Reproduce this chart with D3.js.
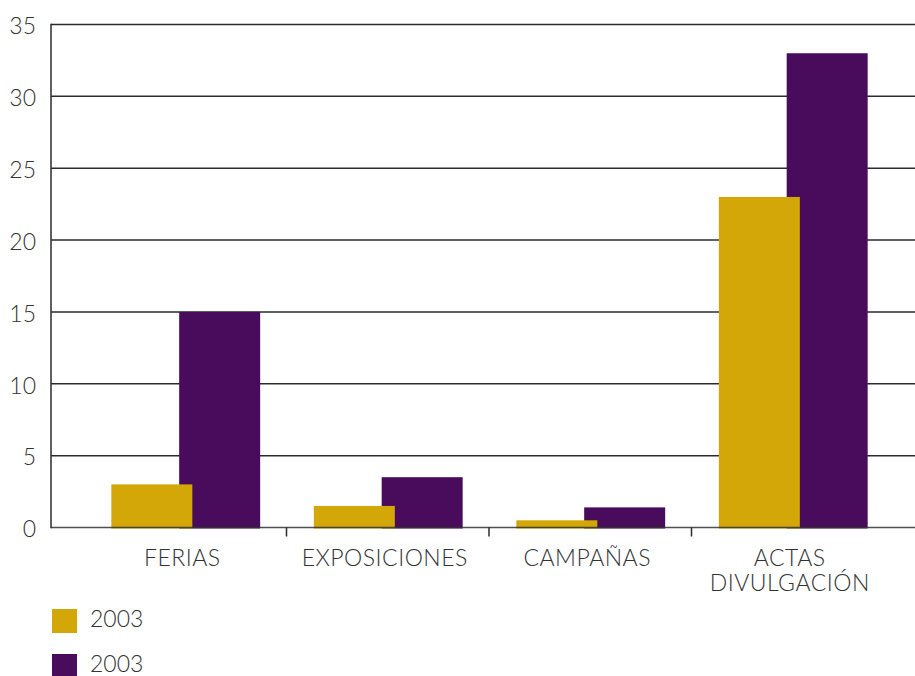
<!DOCTYPE html>
<html>
<head>
<meta charset="utf-8">
<script src="https://cdn.jsdelivr.net/npm/d3@7"></script>
<style>
  html, body { margin: 0; padding: 0; background: #fff; }
  svg { display: block; font-family: Lato, "Open Sans", sans-serif; }
</style>
</head>
<body>
<svg id="chart" width="915" height="676"></svg>
<script>
// Activity counts per category, two series
const categories = ["FERIAS", "EXPOSICIONES", "CAMPAÑAS", "ACTAS\nDIVULGACIÓN"];
const seriesNames = ["2003", "2003 "];
const seriesLabels = ["2003", "2003"];
const seriesA = [3, 1.5, 0.5, 23];
const seriesB = [15, 3.5, 1.4, 33];
const yTicks = [0, 5, 10, 15, 20, 25, 30, 35];
const colors = ["#d2a707", "#490c5d"];

const svg = d3.select("#chart");
const axisX = 51, rightX = 915;
const baseY = 527.5, topY = 24.5;

const x0 = d3.scaleBand().domain(categories).range([84, 894]);
const y = d3.scaleLinear().domain([0, 35]).range([baseY, topY]);
const bw = x0.bandwidth();
const barW = bw * 0.4;
const pairSpan = bw * 0.735;
const x1 = d3.scalePoint().domain(seriesNames).range([0, pairSpan - barW]);
const pairStart = c => x0(c) + (bw - pairSpan) / 2 + 0.5;

// gridlines
svg.append("g").selectAll("line").data(yTicks.filter(t => t > 0)).join("line")
  .attr("x1", axisX).attr("x2", rightX)
  .attr("y1", d => y(d)).attr("y2", d => y(d))
  .attr("stroke", "#2b2b2b").attr("stroke-width", 1.5);

// bars: second series underneath, first series on top
const rows = categories.map((c, i) => ({ c, vals: [seriesA[i], seriesB[i]] }));
[1, 0].forEach(s => {
  svg.append("g").selectAll("rect").data(rows).join("rect")
    .attr("x", d => pairStart(d.c) + x1(seriesNames[s]))
    .attr("y", d => y(d.vals[s]))
    .attr("width", barW)
    .attr("height", d => y(0) - y(d.vals[s]) + 1)
    .attr("fill", colors[s]);
});

// baseline and left axis
svg.append("line").attr("x1", axisX).attr("x2", rightX)
  .attr("y1", y(0)).attr("y2", y(0))
  .attr("stroke", "#333").attr("stroke-width", 1.5).attr("opacity", 0.85);
svg.append("line").attr("x1", axisX).attr("x2", axisX)
  .attr("y1", topY - 0.75).attr("y2", baseY + 0.75)
  .attr("stroke", "#2b2b2b").attr("stroke-width", 1.5);

// separator ticks between categories
svg.append("g").selectAll("line").data(categories.slice(1)).join("line")
  .attr("x1", d => x0(d)).attr("x2", d => x0(d))
  .attr("y1", baseY).attr("y2", baseY + 9)
  .attr("stroke", "#2b2b2b").attr("stroke-width", 1.5);

// y tick labels
svg.append("g").selectAll("text").data(yTicks).join("text")
  .attr("x", 36).attr("y", d => y(d) + 4)
  .attr("text-anchor", "end")
  .attr("font-size", 23).attr("font-weight", 300).attr("fill", "#333")
  .attr("dominant-baseline", "middle")
  .text(d => d);

// category labels
const catG = svg.append("g");
categories.forEach(c => {
  const cx = x0(c) + bw / 2 - 3;
  const t = catG.append("text")
    .attr("x", cx)
    .attr("y", 566)
    .attr("text-anchor", "middle")
    .attr("font-size", 23).attr("font-weight", 300).attr("fill", "#333")
    .attr("letter-spacing", 0.5);
  c.split("\n").forEach((line, i) => {
    t.append("tspan").attr("x", cx).attr("dy", i ? 25 : 0).text(line);
  });
});

// legend
const leg = svg.append("g");
seriesLabels.forEach((s, i) => {
  const ly = 609 + i * 45;
  leg.append("rect").attr("x", 52).attr("y", ly).attr("width", 25).attr("height", 24).attr("fill", colors[i]);
  leg.append("text").attr("x", 90).attr("y", ly + 18)
    .attr("font-size", 23).attr("font-weight", 300).attr("fill", "#333").text(s);
});
</script>
</body>
</html>
